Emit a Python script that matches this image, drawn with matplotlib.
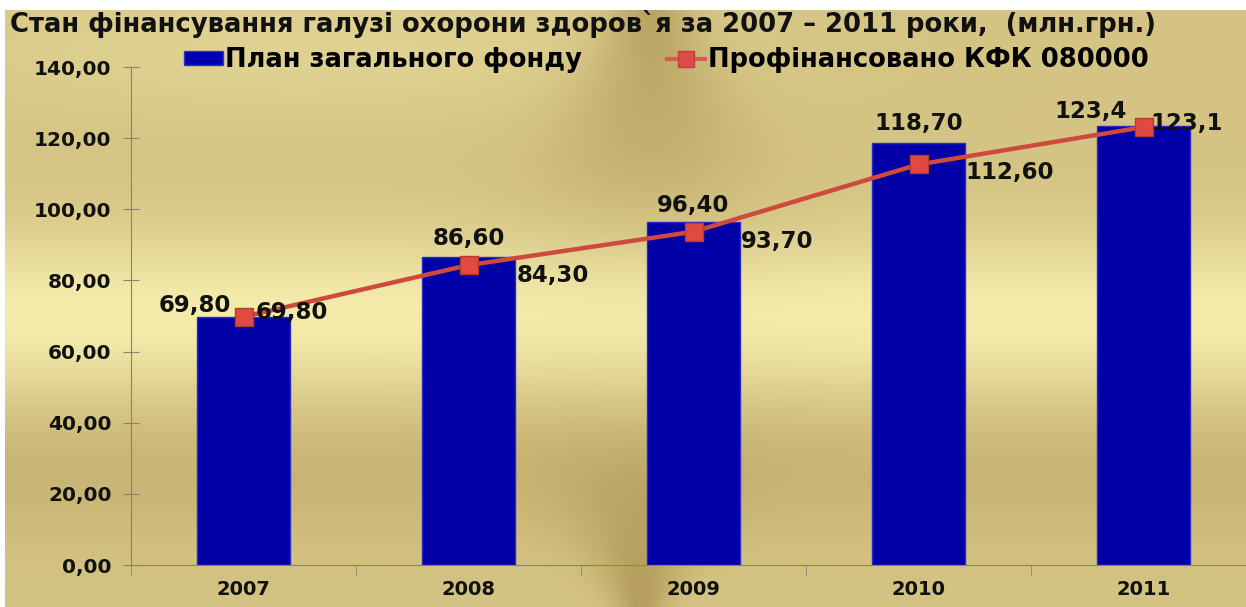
import numpy as np
import matplotlib.pyplot as plt
from matplotlib.patches import Patch
from matplotlib.lines import Line2D

years = ['2007', '2008', '2009', '2010', '2011']
plan = [69.8, 86.6, 96.4, 118.7, 123.4]
fin = [69.8, 84.3, 93.7, 112.6, 123.1]
plan_lbl = ['69,80', '86,60', '96,40', '118,70', '123,4']
fin_lbl = ['69,80', '84,30', '93,70', '112,60', '123,1']
yticks = [0, 20, 40, 60, 80, 100, 120, 140]
ytick_lbl = ['0,00', '20,00', '40,00', '60,00', '80,00', '100,00', '120,00', '140,00']

W, H = 1246, 607
fig = plt.figure(figsize=(W / 100, H / 100), dpi=100)
fig.patch.set_facecolor('white')

# golden background
yy, xx = np.mgrid[0:H, 0:W].astype(float)
t = 0.62 + 0.33 * np.exp(-((yy - 315) / 80) ** 2)
t += 0.12 * np.exp(-((yy - 50) / 70) ** 2) * np.exp(-((xx - 300) / 400) ** 2)
t -= 0.30 * np.exp(-((xx - 650) / (35 + 0.45 * yy)) ** 2) * np.exp(-(yy / 200) ** 2)
t -= 0.30 * np.exp(-((xx - 640) / (25 + 0.5 * (H - yy))) ** 2) * np.exp(-((H - yy) / 130) ** 2)
t -= 0.12 * np.exp(-((yy - 470) / 70) ** 2)
t = np.clip(t, 0, 1)
dark = np.array([150, 120, 55]) / 255
light = np.array([250, 242, 178]) / 255
img = dark[None, None, :] * (1 - t[..., None]) + light[None, None, :] * t[..., None]
img[:10, :, :] = 1.0
img[:, :5, :] = 1.0
bg = fig.add_axes([0, 0, 1, 1], zorder=0)
bg.imshow(img, aspect='auto', interpolation='bilinear')
bg.axis('off')

ax = fig.add_axes([131 / W, 42 / H, 1125 / W, 498 / H], zorder=1)
ax.patch.set_alpha(0)
x = np.arange(len(years))

ax.bar(x, plan, width=0.41, color='#0000a6', edgecolor='#2a2ac8', linewidth=1, zorder=2)
ax.plot(x, fin, color='#cd4a3c', lw=3.2, marker='s', markersize=13,
        markerfacecolor='#e04a40', markeredgecolor='#b83a30', markeredgewidth=1, zorder=3)

plan_dx = [-49, 0, 0, 0, -53]
plan_dy = [11, 18, 17, 19, 15]
fin_dx = [12, 48, 47, 47, 7]
fin_dy = [4, -10, -10, -8, 4]
fs = 16.5
for i in range(len(years)):
    ax.annotate(plan_lbl[i], (x[i], plan[i]), xytext=(plan_dx[i] * 0.72, plan_dy[i] * 0.72),
                textcoords='offset points', ha='center', va='center',
                fontsize=fs, fontweight='bold', color='#111111', zorder=4)
    ax.annotate(fin_lbl[i], (x[i], fin[i]), xytext=(fin_dx[i] * 0.72, fin_dy[i] * 0.72),
                textcoords='offset points', ha='left', va='center',
                fontsize=fs, fontweight='bold', color='#111111', zorder=4)

ax.set_xlim(-0.5, len(years) - 0.5)
ax.set_ylim(0, 140)
ax.set_yticks(yticks)
ax.set_yticklabels(ytick_lbl, fontsize=14.5, fontweight='bold', color='#111111')
ax.set_xticks(x)
ax.set_xticklabels(years, fontsize=14, fontweight='bold', color='#111111')
ax.set_xticks(np.arange(len(years) + 1) - 0.5, minor=True)
ax.tick_params(axis='x', which='major', length=0, pad=11)
ax.tick_params(axis='x', which='minor', length=7, color='#8a8270', direction='out')
ax.tick_params(axis='y', length=12, direction='inout', color='#8a8270', pad=8)
for s in ['top', 'right']:
    ax.spines[s].set_visible(False)
ax.spines['left'].set_color('#8a8270')
ax.spines['bottom'].set_color('#8a8270')

fig.text(10 / W, 1 - 24 / H, 'Стан фінансування галузі охорони здоров`я за 2007 – 2011 роки,  (млн.грн.)',
         fontsize=18.6, fontweight='bold', color='#111111', ha='left', va='center')

handles = [Patch(facecolor='#0000b0', edgecolor='#3030d0'),
           Line2D([0], [0], color='#d85a50', lw=3, marker='s', markersize=11,
                  markerfacecolor='#e04a48', markeredgecolor='#c04040')]
fig.legend(handles, ['План загального фонду', 'Профінансовано КФК 080000'],
           loc='center left', bbox_to_anchor=(184 / W, 1 - 60 / H), ncol=2, frameon=False,
           prop={'size': 18.5, 'weight': 'bold'}, handlelength=1.5, handleheight=0.5,
           handletextpad=0.1, columnspacing=3.3, borderaxespad=0, borderpad=0)

fig.savefig('out.png', dpi=100)
